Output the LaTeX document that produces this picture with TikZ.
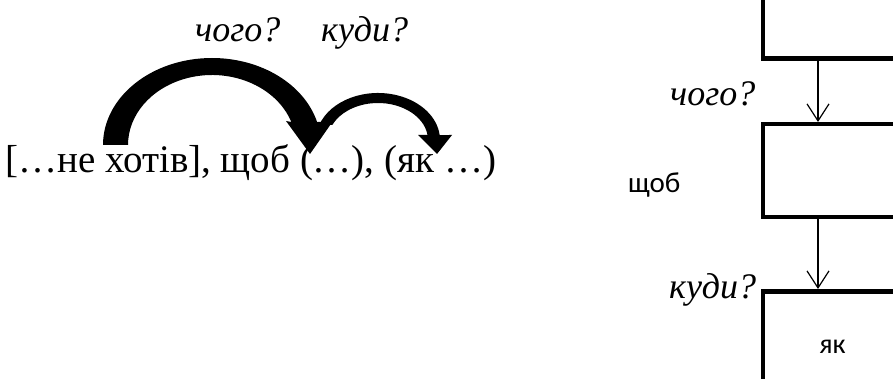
\documentclass[tikz,border=0pt]{standalone}
\usepackage{fontspec}
\setmainfont{Liberation Serif}
\newfontfamily\carl{Carlito}
\usetikzlibrary{arrows.meta}
\tikzset{
  sentence/.style={anchor=base west, inner sep=0pt, font=\fontsize{39}{44}\selectfont},
  question/.style={anchor=base west, inner sep=0pt, font=\fontsize{36}{40}\selectfont\itshape},
  conj/.style={anchor=base west, inner sep=0pt, font=\carl\fontsize{29}{32}\selectfont},
  schemebox/.style={draw=black, line width=4.5pt, fill=white, rectangle, inner sep=0pt},
  thinarrow/.style={line width=1.2pt, -{Straight Barb[length=17pt, width=22pt, line width=1.2pt]}},
  bigarrow/.style={fill=black, draw=none}
}
\begin{document}
\begin{tikzpicture}[x=1pt, y=1pt]
\useasboundingbox (0,0) rectangle (893,-379);
\clip (0,0) rectangle (893,-379);
\fill[white] (0,0) rectangle (893,-379);

% left: sentence with curved arrows
\node[sentence] (sent) at (5,-173) {[…не хотів], щоб (…), (як …)};
\node[question] (q1) at (195,-42) {чого?};
\node[question] (q2) at (321,-42) {куди?};

\coordinate (c1) at (212,-145);
\coordinate (c2) at (378,-140);
% big curved arrow
\path[bigarrow] ([shift={(c1)}]180:109 and 87)
  arc[start angle=180, end angle=15.3, x radius=109, y radius=87]
  -- (333,-121) -- (310,-154) -- (286,-121) -- ([shift={(c1)}]19.2:84 and 70)
  arc[start angle=19.2, end angle=180, x radius=84, y radius=70]
  -- cycle;
% small curved arrow
\path[bigarrow] ([shift={(c2)}]161:62 and 47)
  arc[start angle=161, end angle=6.1, x radius=62, y radius=47]
  -- (452,-135) -- (437,-154) -- (418,-135) -- ([shift={(c2)}]7.8:50 and 37)
  arc[start angle=7.8, end angle=156, x radius=50, y radius=37]
  -- cycle;

% right: scheme
\node[schemebox, anchor=north west, minimum width=150pt, minimum height=76.5pt] (b1) at (760.5,20) {};
\node[schemebox, anchor=north west, minimum width=150pt, minimum height=93pt] (b2) at (760.5,-122) {};
\node[schemebox, anchor=north west, minimum width=139.5pt, minimum height=111pt, font=\carl\fontsize{28}{30}\selectfont] (b3) at (760.5,-289) {як};

\draw[thinarrow] ([xshift=57.5pt]b1.south west) -- ([xshift=57.5pt]b2.north west);
\draw[thinarrow] ([xshift=57.5pt]b2.south west) -- ([xshift=57.5pt]b3.north west);

\node[question] (q3) at (670,-106) {чого?};
\node[question] (q4) at (669,-298) {куди?};
\node[conj] (c) at (628,-193) {щоб};
\end{tikzpicture}
\end{document}
